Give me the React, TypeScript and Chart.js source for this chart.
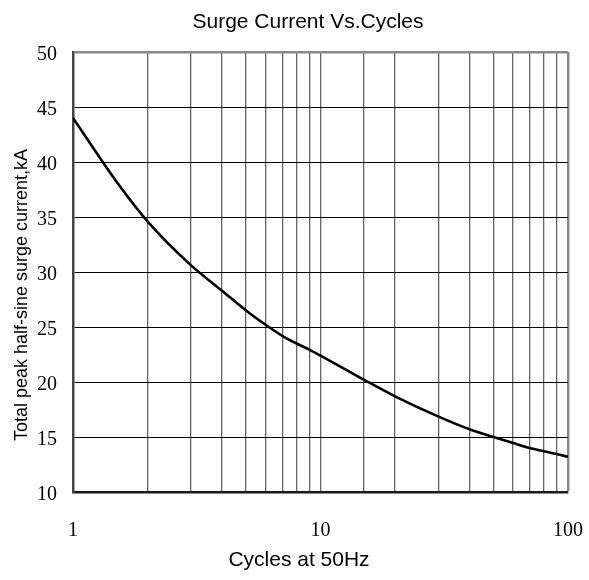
import React, { useEffect, useRef } from "react";
import { Chart, registerables } from "chart.js";

Chart.register(...registerables);

const cycles = [1, 1.5, 2, 3, 4, 5, 6, 7, 8, 9, 10, 15, 20, 30, 40, 50, 60, 70, 80, 90, 100];
const currentKA = [44.0, 38.2, 34.6, 30.6, 28.3, 26.5, 25.2, 24.2, 23.5, 22.95, 22.4, 20.2, 18.7, 16.85, 15.7, 15.0, 14.45, 14.0, 13.7, 13.45, 13.2];
const xTickLabels = [1, 10, 100];
const titleText = "Surge Current Vs.Cycles";
const xTitle = "Cycles at 50Hz";
const yTitle = "Total peak half-sine surge current,kA";

const sans = "'Liberation Sans', Arial, sans-serif";
const serif = "'Liberation Serif', 'Times New Roman', serif";

const textPlugin = {
  id: "textPlugin",
  afterDraw(chart: any) {
    const { ctx } = chart;
    ctx.save();
    ctx.fillStyle = "#000";
    ctx.textAlign = "center";
    ctx.textBaseline = "alphabetic";
    ctx.font = `21px ${sans}`;
    ctx.fillText(titleText, 308, 28);
    ctx.font = `21px ${sans}`;
    ctx.fillText(xTitle, 299, 566);
    ctx.translate(27, 295);
    ctx.rotate(-Math.PI / 2);
    ctx.font = `18px ${sans}`;
    ctx.fillText(yTitle, 0, 0);
    ctx.restore();
  },
};

export default function App() {
  const ref = useRef<HTMLCanvasElement | null>(null);
  useEffect(() => {
    document.body.style.margin = "0";
    const canvas = ref.current;
    if (!canvas) return;
    const chart = new Chart(canvas, {
      type: "line",
      data: {
        datasets: [
          {
            data: cycles.map((c, i) => ({ x: c, y: currentKA[i] })),
            borderColor: "#000",
            borderWidth: 2.6,
            pointRadius: 0,
            cubicInterpolationMode: "monotone",
            fill: false,
          },
        ],
      },
      options: {
        animation: false,
        responsive: false,
        maintainAspectRatio: false,
        layout: { autoPadding: false, padding: { left: 0, right: 21, top: 52, bottom: 0 } },
        plugins: {
          legend: { display: false },
          tooltip: { enabled: false },
          title: { display: false },
        },
        scales: {
          x: {
            type: "logarithmic",
            min: 1,
            max: 100,
            afterFit: (s: any) => {
              s.height = 88;
              s.paddingLeft = 0;
              s.paddingRight = 0;
            },
            border: { display: true, color: "#1a1a1a", width: 2.5 },
            grid: {
              drawTicks: false,
              color: (ctx: any) => (ctx.tick && ctx.tick.value === 100 ? "#888" : "#666"),
              lineWidth: (ctx: any) => (ctx.tick && ctx.tick.value === 100 ? 2.5 : 1.3),
            },
            ticks: {
              autoSkip: false,
              maxRotation: 0,
              padding: 27,
              color: "#000",
              font: { family: serif, size: 20 },
              callback: (v: any) => (xTickLabels.includes(Number(v)) ? String(v) : ""),
            },
          },
          y: {
            min: 10,
            max: 50,
            afterFit: (s: any) => {
              s.width = 73;
              s.paddingTop = 0;
              s.paddingBottom = 0;
            },
            border: { display: true, color: "#444", width: 2.5 },
            grid: {
              drawTicks: false,
              color: (ctx: any) => (ctx.tick && ctx.tick.value === 50 ? "#888" : "#000"),
              lineWidth: (ctx: any) => (ctx.tick && ctx.tick.value === 50 ? 2.5 : 1),
            },
            ticks: {
              stepSize: 5,
              padding: 16,
              labelOffset: 3,
              color: "#000",
              font: { family: serif, size: 20 },
            },
          },
        },
      },
      plugins: [textPlugin],
    } as any);
    return () => chart.destroy();
  }, []);
  return (
    <div style={{ width: 589, height: 580, position: "relative" }}>
      <canvas ref={ref} width={589} height={580} style={{ width: 589, height: 580, display: "block" }} />
    </div>
  );
}
